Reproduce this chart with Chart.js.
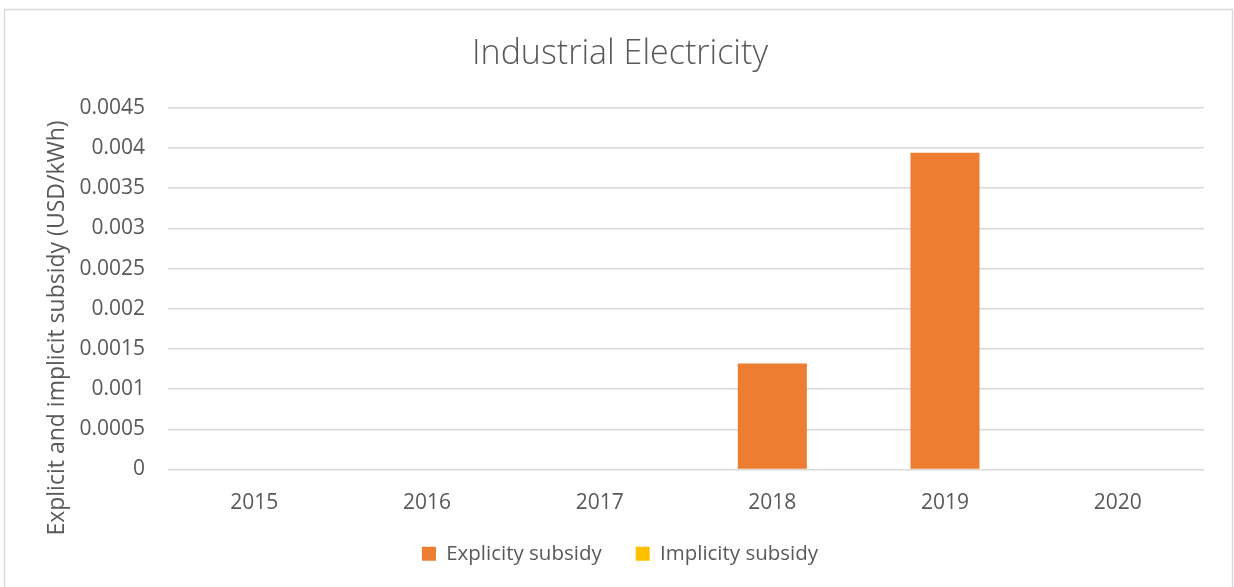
<!DOCTYPE html>
<html>
<head>
<meta charset="utf-8">
<script src="https://cdn.jsdelivr.net/npm/chart.js@4.4.1/dist/chart.umd.min.js"></script>
<style>
  html, body { margin: 0; padding: 0; background: #ffffff; }
  #wrap { position: relative; width: 1234px; height: 587px; }
</style>
</head>
<body>
<div id="wrap"><canvas id="chart" width="1234" height="587"></canvas></div>
<script>
// Years on the category axis
const years = ['2015', '2016', '2017', '2018', '2019', '2020'];
// Subsidy per kWh (USD/kWh)
const explicitSubsidy = [0, 0, 0, 0.00132, 0.00394, 0];
const implicitSubsidy = [0, 0, 0, 0, 0, 0];
// Value-axis tick labels, bottom to top
const yTickLabels = ['0', '0.0005', '0.001', '0.0015', '0.002', '0.0025', '0.003', '0.0035', '0.004', '0.0045'];

const chartTitle = 'Industrial Electricity';
const yAxisTitle = 'Explicit and implicit subsidy (USD/kWh)';
const seriesNames = ['Explicity subsidy', 'Implicity subsidy'];

const FONT = "'Open Sans', 'Noto Sans', sans-serif";
const TEXT = '#595959';
const GRID = '#d9d9d9';

// Light frame around the chart object
const framePlugin = {
  id: 'frame',
  beforeDraw(chart) {
    const ctx = chart.ctx;
    ctx.save();
    ctx.strokeStyle = GRID;
    ctx.lineWidth = 1.5;
    ctx.beginPath();
    ctx.moveTo(4.5, 587);
    ctx.lineTo(4.5, 9.5);
    ctx.lineTo(1232.5, 9.5);
    ctx.lineTo(1232.5, 587);
    ctx.stroke();
    ctx.restore();
  }
};

// Rotated value-axis title
const yTitlePlugin = {
  id: 'yTitle',
  afterDraw(chart) {
    const ctx = chart.ctx;
    ctx.save();
    ctx.translate(57, 328);
    ctx.rotate(-Math.PI / 2);
    ctx.font = '23px ' + FONT;
    ctx.fillStyle = TEXT;
    ctx.textAlign = 'center';
    ctx.textBaseline = 'middle';
    ctx.fillText(yAxisTitle, 0, 0);
    ctx.restore();
  }
};

new Chart(document.getElementById('chart'), {
  type: 'bar',
  data: {
    labels: years,
    datasets: [
      { label: seriesNames[0], data: explicitSubsidy, backgroundColor: '#ED7D31', borderWidth: 0 },
      { label: seriesNames[1], data: implicitSubsidy, backgroundColor: '#FFC000', borderWidth: 0 }
    ]
  },
  options: {
    responsive: false,
    animation: false,
    devicePixelRatio: 1,
    barPercentage: 0.4,
    categoryPercentage: 1,
    layout: { padding: { left: 36, right: 30, top: 10, bottom: 13 } },
    plugins: {
      title: {
        display: true,
        text: chartTitle,
        color: TEXT,
        font: { family: FONT, size: 34, weight: '300' },
        padding: { top: 24, bottom: 33 }
      },
      legend: {
        position: 'bottom',
        labels: {
          color: TEXT,
          font: { family: FONT, size: 20.5 },
          boxWidth: 14,
          boxHeight: 14,
          padding: 34
        }
      },
      tooltip: { enabled: false }
    },
    scales: {
      x: {
        stacked: true,
        grid: { display: false, drawTicks: false },
        border: { display: false },
        ticks: { color: TEXT, font: { family: FONT, size: 21 }, padding: 21 },
        afterFit(scale) { scale.height = 40; }
      },
      y: {
        stacked: true,
        min: 0,
        max: 0.0045,
        grid: { color: GRID, lineWidth: 1.5, drawTicks: false },
        border: { display: false },
        ticks: {
          stepSize: 0.0005,
          color: TEXT,
          font: { family: FONT, size: 21 },
          padding: 23,
          callback: (value, index) => yTickLabels[index]
        },
        afterFit(scale) { scale.width = 132; }
      }
    }
  },
  plugins: [framePlugin, yTitlePlugin]
});
</script>
</body>
</html>
